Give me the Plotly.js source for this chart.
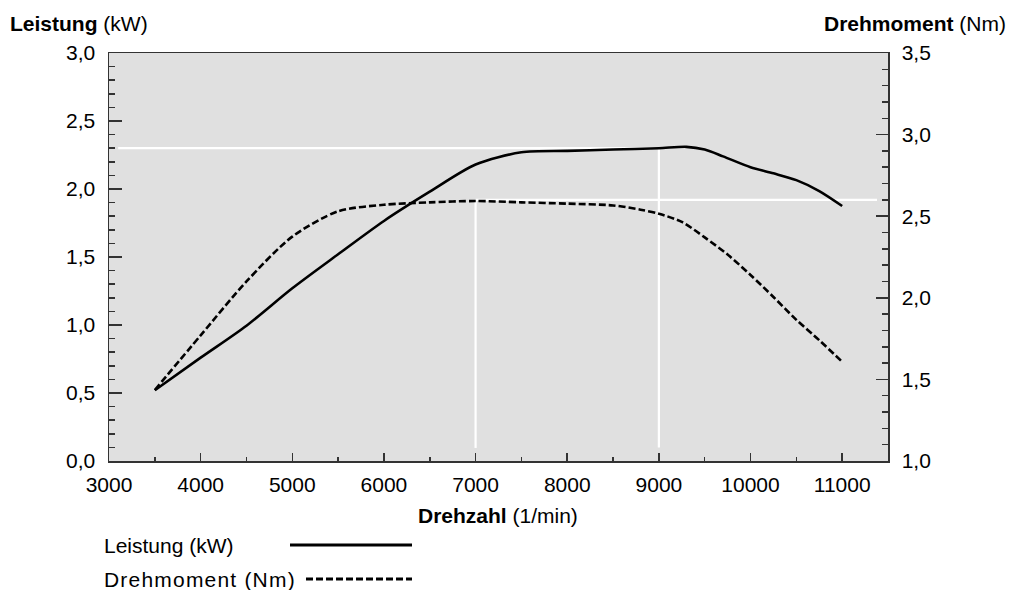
<!DOCTYPE html>
<html>
<head>
<meta charset="utf-8">
<script src="https://cdn.plot.ly/plotly-3.0.1.min.js"></script>
<style>html,body{margin:0;padding:0;background:#fff;}#chart{width:1024px;height:590px;}</style>
</head>
<body>
<div id="chart"></div>
<script>
// ---- data ----
const rpmPower = [3500, 4000, 4500, 5000, 5500, 6000, 6500, 7000, 7500, 8000, 8500, 9000, 9300, 9500, 9700, 10000, 10250, 10500, 10750, 11000];
const power    = [0.52, 0.76, 0.995, 1.27, 1.52, 1.765, 1.98, 2.18, 2.27, 2.28, 2.29, 2.30, 2.31, 2.29, 2.24, 2.16, 2.115, 2.065, 1.985, 1.875];
const rpmTorque = [3500, 4000, 4500, 5000, 5500, 6000, 6500, 7000, 7500, 8000, 8500, 8800, 9000, 9250, 9500, 9750, 10000, 10250, 10500, 10750, 11000];
const torque    = [1.435, 1.77, 2.10, 2.375, 2.53, 2.57, 2.585, 2.593, 2.585, 2.577, 2.566, 2.54, 2.515, 2.465, 2.37, 2.265, 2.14, 2.005, 1.865, 1.74, 1.608];
const peakPower  = {rpm: 9000, value: 2.3};
const peakTorque = {rpm: 7000, value: 2.6};
const refLineStart = 3100, refLineEnd = 11380, refLineBottomPower = 0.1, refLineBottomTorque = 1.08;
const xTickVals = [3000, 4000, 5000, 6000, 7000, 8000, 9000, 10000, 11000];
const seriesNames = ['Leistung (kW)', 'Drehmoment (Nm)'];

// ---- layout helpers (pixel → paper) ----
const PL = 109, PR = 888, PT = 53, PB = 461;
const px = x => (x - PL) / (PR - PL);
const py = y => (PB - y) / (PB - PT);

const FONT = 'Liberation Sans, Arial, Helvetica, sans-serif';
const FS = 21;

const traces = [
  {x: rpmPower, y: power, type: 'scatter', mode: 'lines', name: seriesNames[0],
   line: {color: '#000', width: 2.6, shape: 'spline', smoothing: 0.8}, yaxis: 'y', showlegend: false},
  {x: rpmTorque, y: torque, type: 'scatter', mode: 'lines', name: seriesNames[1],
   line: {color: '#000', width: 2.6, shape: 'spline', smoothing: 0.8, dash: '7px,3px'}, yaxis: 'y2', showlegend: false}
];

const white = {color: '#ffffff', width: 2.2};
const shapes = [
  {type: 'line', layer: 'below', xref: 'x', yref: 'y', x0: refLineStart, x1: peakPower.rpm, y0: peakPower.value, y1: peakPower.value, line: white},
  {type: 'line', layer: 'below', xref: 'x', yref: 'y', x0: peakPower.rpm, x1: peakPower.rpm, y0: refLineBottomPower, y1: peakPower.value, line: white},
  {type: 'line', layer: 'below', xref: 'x', yref: 'y2', x0: peakTorque.rpm, x1: refLineEnd, y0: peakTorque.value, y1: peakTorque.value, line: white},
  {type: 'line', layer: 'below', xref: 'x', yref: 'y2', x0: peakTorque.rpm, x1: peakTorque.rpm, y0: refLineBottomTorque, y1: peakTorque.value, line: white},
  // legend samples
  {type: 'line', xref: 'paper', yref: 'paper', x0: px(290), x1: px(412), y0: py(545), y1: py(545), line: {color: '#000', width: 3}},
  {type: 'line', xref: 'paper', yref: 'paper', x0: px(306), x1: px(412), y0: py(579), y1: py(579), line: {color: '#000', width: 3, dash: '7px,3px'}}
];

const ann = (text, x, y, xanchor, extra) => Object.assign({
  text, xref: 'paper', yref: 'paper', x: px(x), y: py(y), xanchor, yanchor: 'middle',
  showarrow: false, font: {family: FONT, size: FS, color: '#000'}
}, extra || {});

const annotations = [
  ann('<b>Leistung</b> (kW)', 8, 23, 'left'),
  ann('<b>Drehmoment</b> (Nm)', 1008, 23, 'right'),
  ann('<b>Drehzahl</b> (1/min)', 498, 515, 'center'),
  ann(seriesNames[0], 102, 545, 'left'),
  ann('<span style="letter-spacing:1.2px">' + seriesNames[1] + '</span>', 102, 579, 'left')
];

const axisCommon = {
  showgrid: false, zeroline: false, showline: true, linecolor: '#333', linewidth: 1.5,
  ticks: 'inside', tickcolor: '#333', tickwidth: 1.5,
  tickfont: {family: FONT, size: FS, color: '#000'}
};

const layout = {
  width: 1024, height: 590,
  margin: {l: PL, r: 1024 - PR, t: PT, b: 590 - PB, pad: 0},
  paper_bgcolor: '#ffffff', plot_bgcolor: '#e0e0e0',
  separators: ', ',
  font: {family: FONT, size: FS, color: '#000'},
  showlegend: false,
  xaxis: Object.assign({}, axisCommon, {
    range: [3000, 11500], tickvals: xTickVals, tickformat: 'd', ticklen: 8, mirror: true,
    ticklabelstandoff: 4,
    minor: {dtick: 500, ticklen: 4, ticks: 'inside', tickcolor: '#333', tickwidth: 1.5}
  }),
  yaxis: Object.assign({}, axisCommon, {
    range: [0, 3.0], dtick: 0.5, tickformat: '.1f', ticklen: 13, ticklabelstandoff: 8,
    minor: {dtick: 0.1, ticklen: 6, ticks: 'inside', tickcolor: '#333', tickwidth: 1.5}
  }),
  yaxis2: Object.assign({}, axisCommon, {
    range: [1.0, 3.5], dtick: 0.5, tickformat: '.1f', ticklen: 12, overlaying: 'y', side: 'right',
    ticklabelstandoff: 8,
    minor: {dtick: 0.1, ticklen: 6, ticks: 'inside', tickcolor: '#333', tickwidth: 1.5}
  }),
  shapes, annotations
};

Plotly.newPlot('chart', traces, layout, {displayModeBar: false, staticPlot: true});
</script>
</body>
</html>
